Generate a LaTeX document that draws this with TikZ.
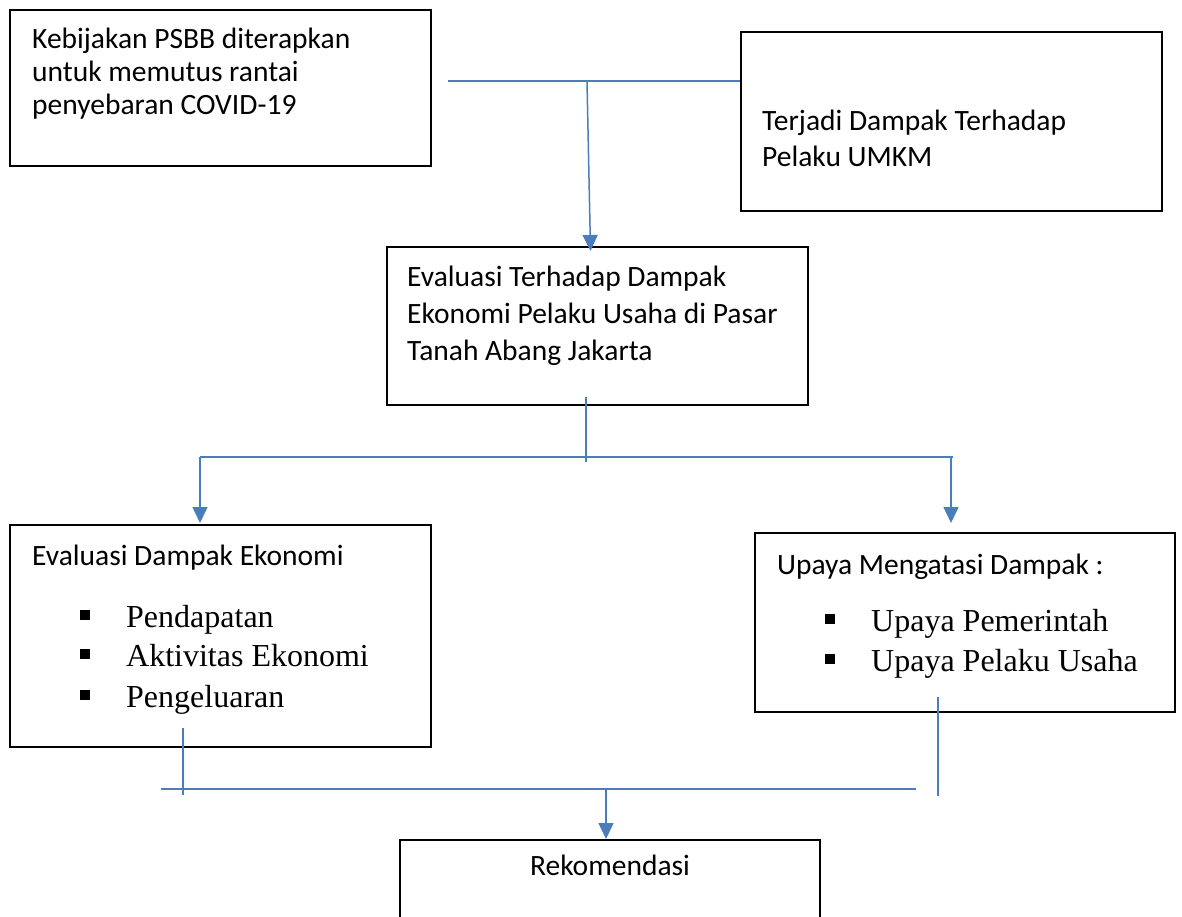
\documentclass[tikz,border=0pt]{standalone}
\usepackage{fontspec}
\setmainfont{Carlito}
\newfontfamily\timesf{Liberation Serif}
\usetikzlibrary{arrows.meta}
\definecolor{lineblue}{HTML}{4A7EBB}
\tikzset{
  box/.style={draw=black, line width=1.8pt, fill=white, rectangle, inner sep=0pt, anchor=north west},
  cal/.style={anchor=base west, inner sep=0pt, font=\fontsize{29.5}{35}\selectfont},
  tms/.style={anchor=base west, inner sep=0pt, font=\timesf\fontsize{32}{40}\selectfont},
  sq/.style={fill=black, inner sep=0pt, minimum size=10pt, rectangle},
  hconn/.style={draw=lineblue, line width=2pt},
  vconn/.style={draw=lineblue, line width=1.5pt},
  arr/.style={vconn, -{Triangle[width=15pt,length=16pt]}},
}
\begin{document}
\begin{tikzpicture}[x=1pt,y=-1pt]
\useasboundingbox (0,0) rectangle (1182,917);
\fill[white] (0,0) rectangle (1182,917);
\clip (0,0) rectangle (1182,917);

% boxes
\node[box, minimum width=421pt, minimum height=156pt] (b1) at (9,9) {};
\node[box, minimum width=421pt, minimum height=179pt] (b2) at (740,31) {};
\node[box, minimum width=421pt, minimum height=158pt] (b3) at (386,246) {};
\node[box, minimum width=421pt, minimum height=222pt] (b4) at (9,524) {};
\node[box, minimum width=420pt, minimum height=179pt] (b5) at (754,532) {};
\node[box, minimum width=420pt, minimum height=150pt] (b6) at (399,839) {};

% texts
\node[cal] (t11) at (32,49) {Kebijakan PSBB diterapkan};
\node[cal] (t12) at (32,82) {untuk memutus rantai};
\node[cal] (t13) at (32,115) {penyebaran COVID-19};

\node[cal] (t21) at (762,131) {Terjadi Dampak Terhadap};
\node[cal] (t22) at (762,167) {Pelaku UMKM};

\node[cal] (t31) at (407,286) {Evaluasi Terhadap Dampak};
\node[cal] (t32) at (407,323) {Ekonomi Pelaku Usaha di Pasar};
\node[cal] (t33) at (407,360) {Tanah Abang Jakarta};

\node[cal] (t41) at (32,565) {Evaluasi Dampak Ekonomi};
\node[sq] (s41) at (85,615) {};
\node[tms] (t42) at (126,627) {Pendapatan};
\node[sq] (s42) at (85,654) {};
\node[tms] (t43) at (126,666) {Aktivitas Ekonomi};
\node[sq] (s43) at (85,695) {};
\node[tms] (t44) at (126,707) {Pengeluaran};

\node[cal] (t51) at (777,574) {Upaya Mengatasi Dampak :};
\node[sq] (s51) at (830,619) {};
\node[tms] (t52) at (871,631) {Upaya Pemerintah};
\node[sq] (s52) at (830,659) {};
\node[tms] (t53) at (871,671) {Upaya Pelaku Usaha};

\node[cal, anchor=base] (t61) at (610,875) {Rekomendasi};

% connector points
\coordinate (c1) at (448,81.5);
\coordinate (c2) at (587,81.5);
\coordinate (c3) at (590.5,251);
\coordinate (d1) at (586,397);
\coordinate (d2) at (586,462);
\coordinate (dl) at (200,457);
\coordinate (dr) at (953,457);
\coordinate (dla) at (200,523);
\coordinate (dra) at (951,523);
\coordinate (drt) at (951,457);
\coordinate (e1) at (183,728);
\coordinate (e2) at (183,795);
\coordinate (e3) at (938,697);
\coordinate (e4) at (938,796);
\coordinate (el) at (161,789);
\coordinate (er) at (916,789);
\coordinate (em) at (606,789);
\coordinate (ea) at (606,839);

% connectors
\draw[hconn] (c1) -- (c1 -| b2.west);
\draw[arr] (c2) -- (c3);
\draw[vconn] (d1) -- (d2);
\draw[hconn] (dl) -- (dr);
\draw[arr] (dl) -- (dla);
\draw[arr] (drt) -- (dra);
\draw[vconn] (e1) -- (e2);
\draw[vconn] (e3) -- (e4);
\draw[hconn] (el) -- (er);
\draw[arr] (em) -- (ea);
\end{tikzpicture}
\end{document}
